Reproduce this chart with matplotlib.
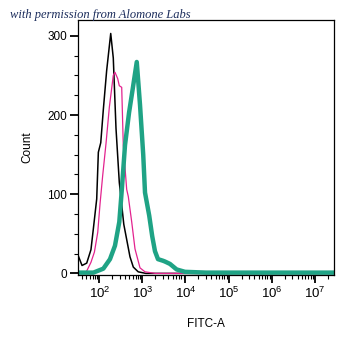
import matplotlib
matplotlib.use("Agg")
from matplotlib import pyplot as plt
from matplotlib.ticker import LogLocator, MultipleLocator

plt.rcParams['font.family'] = ['Liberation Sans', 'DejaVu Sans']
plt.rcParams['mathtext.default'] = 'regular'

# Histogram traces (FITC-A intensity vs. event count)
black_x = [32.6, 39.7, 51, 64, 72.6, 87, 95, 108, 124, 148, 184, 211, 244, 291,
           370, 515, 615, 800, 1200, 3e7]
black_y = [22, 10, 13, 30, 56, 94, 153, 165, 207, 256, 303, 272, 183, 115,
           62, 21, 8, 2, 0, 0]

magenta_x = [35, 49, 64, 77, 92, 104, 120, 143, 171, 211, 231, 267, 291, 331,
             360, 432, 471, 565, 673, 880, 1150, 2000, 3e7]
magenta_y = [1, 1, 14, 27, 52, 88, 124, 164, 210, 250, 254, 246, 237, 235,
             162, 106, 97, 65, 31, 7, 2, 0, 0]

green_x = [32, 73, 124, 177, 231, 291, 331, 395, 490, 596, 740, 880, 1045,
           1150, 1440, 1690, 1960, 2300, 3000, 3340, 4360, 6240, 9730, 3e4, 3e7]
green_y = [1, 1, 6, 18, 35, 65, 104, 162, 203, 233, 267, 213, 150,
           102, 73, 47, 28, 18, 16, 15, 12, 5, 2, 1, 1]

fig = plt.figure(figsize=(3.55, 3.48), dpi=100)
ax = fig.add_axes([0.2197, 0.2098, 0.7211, 0.7327])

ax.plot(black_x, black_y, color='black', lw=1.1)
ax.plot(magenta_x, magenta_y, color='#e3238f', lw=0.9)
ax.plot(green_x, green_y, color='#1fa385', lw=3.2)

ax.set_xscale('log')
ax.set_xlim(32, 2.8e7)
ax.set_ylim(-2, 320)

ax.xaxis.set_major_locator(LogLocator(base=10, numticks=12))
ax.xaxis.set_minor_locator(LogLocator(base=10, subs=range(2, 10), numticks=12))
ax.yaxis.set_major_locator(MultipleLocator(100))
ax.yaxis.set_minor_locator(MultipleLocator(25))

ax.tick_params(which='major', length=6, width=1.3, labelsize=8.5, pad=2)
ax.tick_params(which='minor', length=3, width=0.8)
ax.tick_params(axis='x', which='major', labelsize=9.5)
for s in ax.spines.values():
    s.set_linewidth(0.9)

ax.set_xlabel('FITC-A', fontsize=8.5, labelpad=12)
ax.set_ylabel('Count', fontsize=8.5, labelpad=10)

fig.text(0.028, 0.975, 'with permission from Alomone Labs', fontsize=9,
         family='Liberation Serif', style='italic', color='#1c2d5c',
         va='top', ha='left')

fig.savefig('out.png', dpi=100)
